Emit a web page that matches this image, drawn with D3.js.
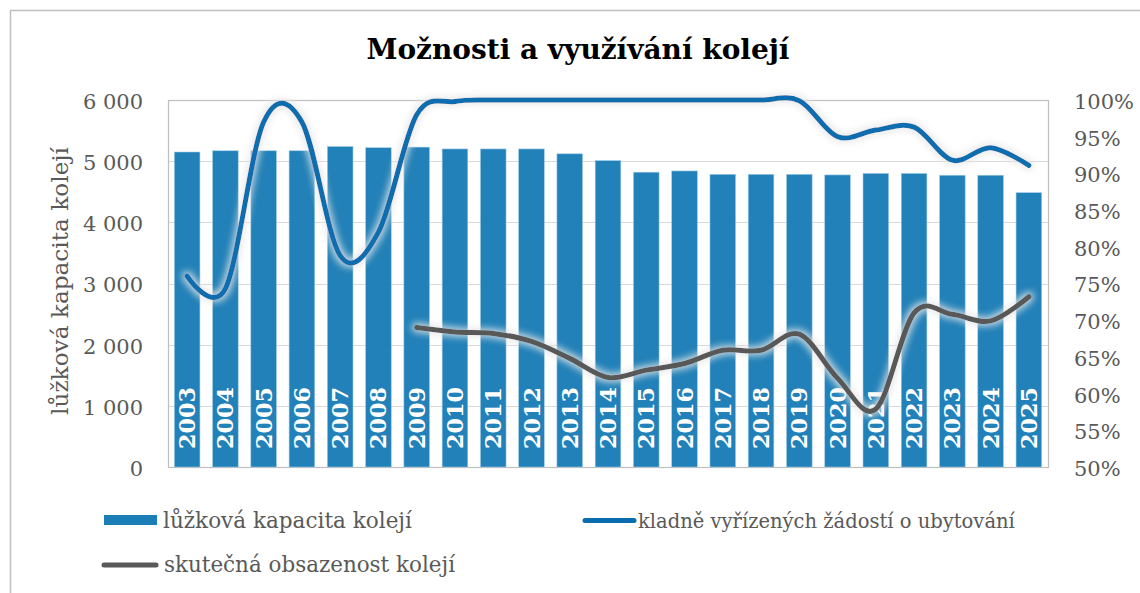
<!DOCTYPE html>
<html>
<head>
<meta charset="utf-8">
<script src="https://cdn.jsdelivr.net/npm/d3@7"></script>
<style>
  body { margin: 0; background: #fff; }
  text { font-family: Georgia, "DejaVu Serif", serif; }
</style>
</head>
<body>
<svg id="chart" width="1140" height="593"></svg>
<script>
// data
const years = ["2003","2004","2005","2006","2007","2008","2009","2010","2011","2012","2013","2014",
               "2015","2016","2017","2018","2019","2020","2021","2022","2023","2024","2025"];
const capacity = [5150,5170,5170,5170,5240,5220,5230,5200,5200,5200,5120,5010,
                  4820,4840,4785,4785,4785,4775,4800,4800,4770,4770,4485];
const approved = [76,74.3,97,97,78.8,82,98,99.8,100,100,100,100,
                  100,100,100,100,99.9,95,95.9,96.3,91.8,93.5,91.1];
const occupancy = [null,null,null,null,null,null,69.0,68.4,68.2,67.1,64.8,62.2,
                   63.2,64.1,65.9,65.9,68.1,62.1,57.9,71.0,70.8,69.9,73.2];
const leftTicks = [0,1000,2000,3000,4000,5000,6000];
const rightTicks = [50,55,60,65,70,75,80,85,90,95,100];

const title = "Možnosti a využívání kolejí";
const yTitle = "lůžková kapacita kolejí";
const seriesNames = ["lůžková kapacita kolejí", "kladně vyřízených žádostí o ubytování", "skutečná obsazenost kolejí"];

const W = 1140, H = 593;
const margin = {top: 100, right: 92, bottom: 126, left: 168};
const plotW = W - margin.left - margin.right,   // 880
      plotH = H - margin.top - margin.bottom;   // 367

const barColor = "#1b7db6", blueLine = "#0a6daf", grayLine = "#595959", textGray = "#595959";

const svg = d3.select("#chart");

// glow behind lines
const defs = svg.append("defs");
const glow = defs.append("filter").attr("id", "glow")
  .attr("x", "-10%").attr("y", "-30%").attr("width", "120%").attr("height", "160%");
glow.append("feMorphology").attr("in", "SourceAlpha").attr("operator", "dilate").attr("radius", 2).attr("result", "d");
glow.append("feGaussianBlur").attr("in", "d").attr("stdDeviation", 3.5).attr("result", "b");
glow.append("feFlood").attr("flood-color", "#e6e6e6").attr("flood-opacity", 0.85);
glow.append("feComposite").attr("in2", "b").attr("operator", "in").attr("result", "g");
const gm = glow.append("feMerge");
gm.append("feMergeNode").attr("in", "g");
gm.append("feMergeNode").attr("in", "SourceGraphic");

function fit(sel, w) {
  const fs = parseFloat(sel.attr("font-size"));
  const l = sel.node().getComputedTextLength();
  sel.attr("font-size", (fs * w / l).toFixed(2));
  return sel;
}

// outer chart border
svg.append("rect").attr("x", 10.5).attr("y", 10.5).attr("width", 1140).attr("height", 600)
  .attr("fill", "none").attr("stroke", "#bfbfbf").attr("stroke-width", 1.5);

// title
fit(svg.append("text").attr("x", 578).attr("y", 59).attr("text-anchor", "middle")
  .attr("font-size", 26).attr("font-weight", "bold").attr("fill", "#000").text(title), 423);

const x = d3.scaleBand().domain(years).range([margin.left, margin.left + plotW])
  .paddingInner(0.33).paddingOuter(0.165);
const yL = d3.scaleLinear().domain([0, 6000]).range([margin.top + plotH, margin.top]);
const yR = d3.scaleLinear().domain([50, 100]).range([margin.top + plotH, margin.top]);
const cx = d => x(d) + x.bandwidth() / 2;

// gridlines
svg.append("g").selectAll("line").data(leftTicks.slice(1, -1)).join("line")
  .attr("x1", margin.left).attr("x2", margin.left + plotW)
  .attr("y1", d => Math.round(yL(d)) + 0.5).attr("y2", d => Math.round(yL(d)) + 0.5)
  .attr("stroke", "#d9d9d9").attr("stroke-width", 1.2);

// plot border
svg.append("rect").attr("x", margin.left + 0.5).attr("y", margin.top + 0.5)
  .attr("width", plotW).attr("height", plotH)
  .attr("fill", "none").attr("stroke", "#bfbfbf").attr("stroke-width", 1.2);

// left axis labels
const gL = svg.append("g").attr("transform", `translate(${margin.left - 22},0)`)
  .call(d3.axisLeft(yL).tickValues(leftTicks).tickSize(0)
    .tickFormat(d => d3.format(",")(d).replace(",", " ")));
gL.select(".domain").remove();
gL.selectAll("text").attr("font-family", 'Georgia, "DejaVu Serif", serif')
  .attr("font-size", 21).attr("fill", textGray).attr("dy", "0.4em");

// right axis labels
const gR = svg.append("g").attr("transform", `translate(${margin.left + plotW + 23},0)`)
  .call(d3.axisRight(yR).tickValues(rightTicks).tickSize(0).tickFormat(d => d + "%"));
gR.select(".domain").remove();
gR.selectAll("text").attr("font-family", 'Georgia, "DejaVu Serif", serif')
  .attr("font-size", 21).attr("fill", textGray).attr("dy", "0.4em");

// left axis title
fit(svg.append("text").attr("transform", `translate(68,${margin.top + 181}) rotate(-90)`)
  .attr("text-anchor", "middle").attr("font-size", 20).attr("fill", textGray).text(yTitle), 268);

// bars
svg.append("g").selectAll("rect").data(years).join("rect")
  .attr("x", d => x(d)).attr("width", x.bandwidth())
  .attr("y", (d, i) => yL(capacity[i])).attr("height", (d, i) => yL(0) - yL(capacity[i]))
  .attr("fill", barColor).attr("fill-opacity", 0.97)
  .attr("stroke", "#9fcbe6").attr("stroke-width", 0.6);

// year labels inside bars
svg.append("g").selectAll("text").data(years).join("text")
  .attr("transform", d => `translate(${cx(d)},${yL(0) - 18}) rotate(-90)`)
  .attr("dy", "0.36em").attr("font-size", 22).attr("font-weight", "bold")
  .attr("fill", "#fff").text(d => d)
  .each(function() { fit(d3.select(this), 62); });

// lines
const lineGen = d3.line().defined(d => d.v != null)
  .x(d => cx(d.year)).y(d => yR(d.v)).curve(d3.curveCardinal);

svg.append("path")
  .datum(years.map((y, i) => ({year: y, v: approved[i]})))
  .attr("d", lineGen).attr("fill", "none").attr("stroke", blueLine)
  .attr("stroke-width", 5).attr("stroke-linecap", "round").attr("stroke-linejoin", "round")
  .attr("filter", "url(#glow)");

svg.append("path")
  .datum(years.map((y, i) => ({year: y, v: occupancy[i]})).filter(d => d.v != null))
  .attr("d", lineGen).attr("fill", "none").attr("stroke", grayLine)
  .attr("stroke-width", 5).attr("stroke-linecap", "round").attr("stroke-linejoin", "round")
  .attr("filter", "url(#glow)");

// legend
const lg = svg.append("g");
lg.append("rect").attr("x", 104).attr("y", 515).attr("width", 53).attr("height", 10).attr("fill", barColor);
fit(lg.append("text").attr("x", 163).attr("y", 528).attr("font-size", 20).attr("fill", textGray).text(seriesNames[0]), 249);

lg.append("line").attr("x1", 585).attr("x2", 634).attr("y1", 520.5).attr("y2", 520.5)
  .attr("stroke", blueLine).attr("stroke-width", 5).attr("stroke-linecap", "round");
fit(lg.append("text").attr("x", 638).attr("y", 528).attr("font-size", 20).attr("fill", textGray).text(seriesNames[1]), 377);

lg.append("line").attr("x1", 104).attr("x2", 156).attr("y1", 565).attr("y2", 565)
  .attr("stroke", grayLine).attr("stroke-width", 5).attr("stroke-linecap", "round");
fit(lg.append("text").attr("x", 164).attr("y", 572).attr("font-size", 20).attr("fill", textGray).text(seriesNames[2]), 291);
</script>
</body>
</html>
